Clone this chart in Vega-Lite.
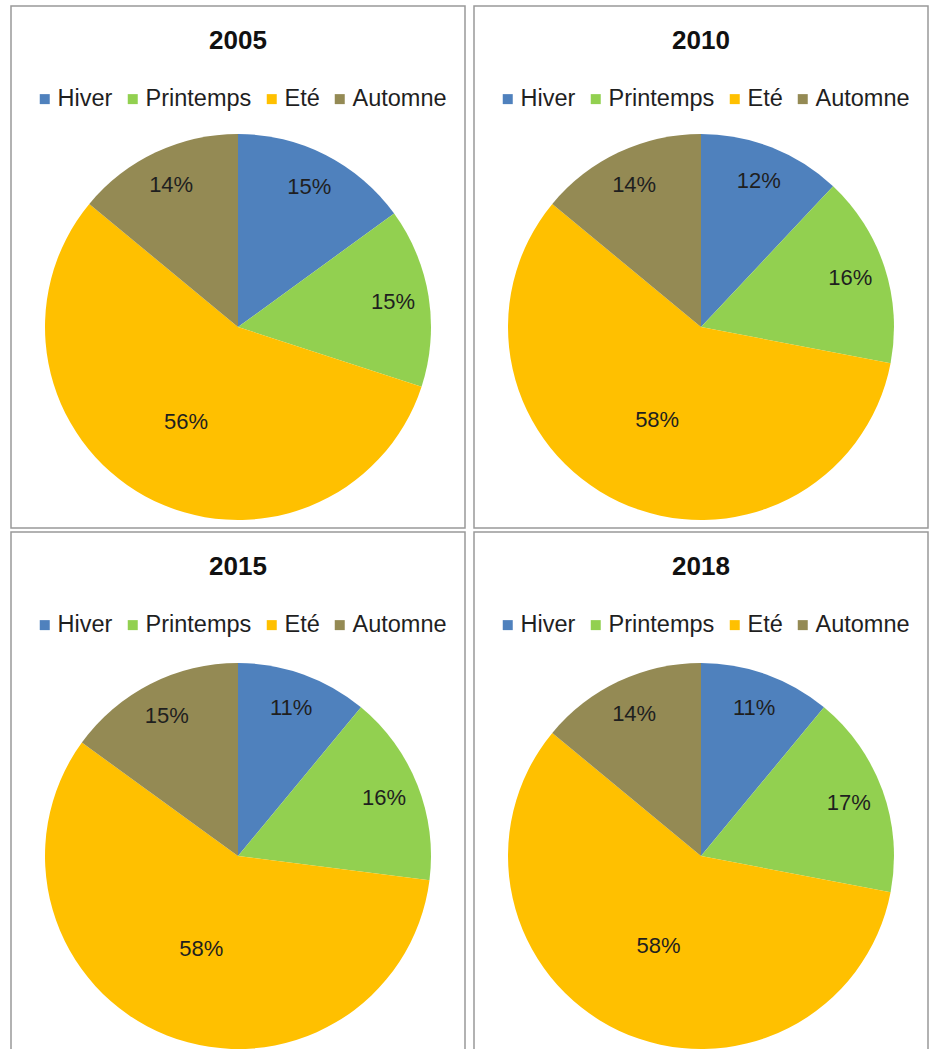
{
  "$schema": "https://vega.github.io/schema/vega-lite/v6.json",
  "padding": {"left": 10, "top": 5, "right": 0, "bottom": 0},
  "background": "white",
  "data": {"values": [
    {"annee": "2005", "saison": "Hiver", "n": 1, "part": 0.15},
    {"annee": "2005", "saison": "Printemps", "n": 2, "part": 0.15},
    {"annee": "2005", "saison": "Eté", "n": 3, "part": 0.56},
    {"annee": "2005", "saison": "Automne", "n": 4, "part": 0.14},
    {"annee": "2010", "saison": "Hiver", "n": 1, "part": 0.12},
    {"annee": "2010", "saison": "Printemps", "n": 2, "part": 0.16},
    {"annee": "2010", "saison": "Eté", "n": 3, "part": 0.58},
    {"annee": "2010", "saison": "Automne", "n": 4, "part": 0.14},
    {"annee": "2015", "saison": "Hiver", "n": 1, "part": 0.11},
    {"annee": "2015", "saison": "Printemps", "n": 2, "part": 0.16},
    {"annee": "2015", "saison": "Eté", "n": 3, "part": 0.58},
    {"annee": "2015", "saison": "Automne", "n": 4, "part": 0.15},
    {"annee": "2018", "saison": "Hiver", "n": 1, "part": 0.11},
    {"annee": "2018", "saison": "Printemps", "n": 2, "part": 0.17},
    {"annee": "2018", "saison": "Eté", "n": 3, "part": 0.58},
    {"annee": "2018", "saison": "Automne", "n": 4, "part": 0.14}
  ]},
  "columns": 2,
  "spacing": {"row": 2, "column": 7},
  "resolve": {"scale": {"color": "independent", "theta": "independent"}},
  "concat": [
    {
      "width": 454, "height": 522,
      "view": {"stroke": "#999999", "strokeWidth": 1.5},
      "title": "2005",
      "transform": [{"filter": "datum.annee == '2005'"}],
      "layer": [
        {"mark": {"type": "arc", "radius": 193, "yOffset": 60},
         "encoding": {
           "theta": {"field": "part", "type": "quantitative", "stack": true},
           "order": {"field": "n", "type": "ordinal"},
           "color": {"field": "saison", "type": "nominal",
             "scale": {"domain": ["Hiver", "Printemps", "Eté", "Automne"], "range": ["#4F81BD", "#92D050", "#FFC000", "#948A54"]},
             "legend": {"orient": "none", "direction": "horizontal", "legendX": 22, "legendY": 81, "title": null}}
         }},
        {"mark": {"type": "text", "radius": 157, "yOffset": 60, "fontSize": 22, "font": "Liberation Sans", "color": "#1f1f1f"},
         "encoding": {
           "theta": {"field": "part", "type": "quantitative", "stack": true},
           "order": {"field": "n", "type": "ordinal"},
           "text": {"field": "part", "type": "quantitative", "format": ".0%"},
           "opacity": {"condition": {"test": "datum.saison == 'Eté'", "value": 0}, "value": 1}
         }},
        {"mark": {"type": "text", "radius": 108, "yOffset": 60, "fontSize": 22, "font": "Liberation Sans", "color": "#1f1f1f"},
         "encoding": {
           "theta": {"field": "part", "type": "quantitative", "stack": true},
           "order": {"field": "n", "type": "ordinal"},
           "text": {"field": "part", "type": "quantitative", "format": ".0%"},
           "opacity": {"condition": {"test": "datum.saison == 'Eté'", "value": 1}, "value": 0}
         }}
      ]
    },
    {
      "width": 454, "height": 522,
      "view": {"stroke": "#999999", "strokeWidth": 1.5},
      "title": "2010",
      "transform": [{"filter": "datum.annee == '2010'"}],
      "layer": [
        {"mark": {"type": "arc", "radius": 193, "yOffset": 60},
         "encoding": {
           "theta": {"field": "part", "type": "quantitative", "stack": true},
           "order": {"field": "n", "type": "ordinal"},
           "color": {"field": "saison", "type": "nominal",
             "scale": {"domain": ["Hiver", "Printemps", "Eté", "Automne"], "range": ["#4F81BD", "#92D050", "#FFC000", "#948A54"]},
             "legend": {"orient": "none", "direction": "horizontal", "legendX": 22, "legendY": 81, "title": null}}
         }},
        {"mark": {"type": "text", "radius": 157, "yOffset": 60, "fontSize": 22, "font": "Liberation Sans", "color": "#1f1f1f"},
         "encoding": {
           "theta": {"field": "part", "type": "quantitative", "stack": true},
           "order": {"field": "n", "type": "ordinal"},
           "text": {"field": "part", "type": "quantitative", "format": ".0%"},
           "opacity": {"condition": {"test": "datum.saison == 'Eté'", "value": 0}, "value": 1}
         }},
        {"mark": {"type": "text", "radius": 103, "yOffset": 60, "fontSize": 22, "font": "Liberation Sans", "color": "#1f1f1f"},
         "encoding": {
           "theta": {"field": "part", "type": "quantitative", "stack": true},
           "order": {"field": "n", "type": "ordinal"},
           "text": {"field": "part", "type": "quantitative", "format": ".0%"},
           "opacity": {"condition": {"test": "datum.saison == 'Eté'", "value": 1}, "value": 0}
         }}
      ]
    },
    {
      "width": 454, "height": 522,
      "view": {"stroke": "#999999", "strokeWidth": 1.5},
      "title": "2015",
      "transform": [{"filter": "datum.annee == '2015'"}],
      "layer": [
        {"mark": {"type": "arc", "radius": 193, "yOffset": 63},
         "encoding": {
           "theta": {"field": "part", "type": "quantitative", "stack": true},
           "order": {"field": "n", "type": "ordinal"},
           "color": {"field": "saison", "type": "nominal",
             "scale": {"domain": ["Hiver", "Printemps", "Eté", "Automne"], "range": ["#4F81BD", "#92D050", "#FFC000", "#948A54"]},
             "legend": {"orient": "none", "direction": "horizontal", "legendX": 22, "legendY": 81, "title": null}}
         }},
        {"mark": {"type": "text", "radius": 157, "yOffset": 63, "fontSize": 22, "font": "Liberation Sans", "color": "#1f1f1f"},
         "encoding": {
           "theta": {"field": "part", "type": "quantitative", "stack": true},
           "order": {"field": "n", "type": "ordinal"},
           "text": {"field": "part", "type": "quantitative", "format": ".0%"},
           "opacity": {"condition": {"test": "datum.saison == 'Eté'", "value": 0}, "value": 1}
         }},
        {"mark": {"type": "text", "radius": 100, "yOffset": 63, "fontSize": 22, "font": "Liberation Sans", "color": "#1f1f1f"},
         "encoding": {
           "theta": {"field": "part", "type": "quantitative", "stack": true},
           "order": {"field": "n", "type": "ordinal"},
           "text": {"field": "part", "type": "quantitative", "format": ".0%"},
           "opacity": {"condition": {"test": "datum.saison == 'Eté'", "value": 1}, "value": 0}
         }}
      ]
    },
    {
      "width": 454, "height": 522,
      "view": {"stroke": "#999999", "strokeWidth": 1.5},
      "title": "2018",
      "transform": [{"filter": "datum.annee == '2018'"}],
      "layer": [
        {"mark": {"type": "arc", "radius": 193, "yOffset": 63},
         "encoding": {
           "theta": {"field": "part", "type": "quantitative", "stack": true},
           "order": {"field": "n", "type": "ordinal"},
           "color": {"field": "saison", "type": "nominal",
             "scale": {"domain": ["Hiver", "Printemps", "Eté", "Automne"], "range": ["#4F81BD", "#92D050", "#FFC000", "#948A54"]},
             "legend": {"orient": "none", "direction": "horizontal", "legendX": 22, "legendY": 81, "title": null}}
         }},
        {"mark": {"type": "text", "radius": 157, "yOffset": 63, "fontSize": 22, "font": "Liberation Sans", "color": "#1f1f1f"},
         "encoding": {
           "theta": {"field": "part", "type": "quantitative", "stack": true},
           "order": {"field": "n", "type": "ordinal"},
           "text": {"field": "part", "type": "quantitative", "format": ".0%"},
           "opacity": {"condition": {"test": "datum.saison == 'Eté'", "value": 0}, "value": 1}
         }},
        {"mark": {"type": "text", "radius": 100, "yOffset": 63, "fontSize": 22, "font": "Liberation Sans", "color": "#1f1f1f"},
         "encoding": {
           "theta": {"field": "part", "type": "quantitative", "stack": true},
           "order": {"field": "n", "type": "ordinal"},
           "text": {"field": "part", "type": "quantitative", "format": ".0%"},
           "opacity": {"condition": {"test": "datum.saison == 'Eté'", "value": 1}, "value": 0}
         }}
      ]
    }
  ],
  "config": {
    "view": {"stroke": "#999999", "strokeWidth": 1.5},
    "title": {"font": "Liberation Sans", "fontSize": 26, "fontWeight": "bold", "color": "#111111", "anchor": "middle", "offset": -48},
    "legend": {"labelFont": "Liberation Sans", "labelFontSize": 23.5, "labelColor": "#1f1f1f", "symbolType": "square", "symbolSize": 100, "symbolStrokeWidth": 0, "labelOffset": 1, "columnPadding": 8, "padding": 0, "labelLimit": 300}
  }
}
